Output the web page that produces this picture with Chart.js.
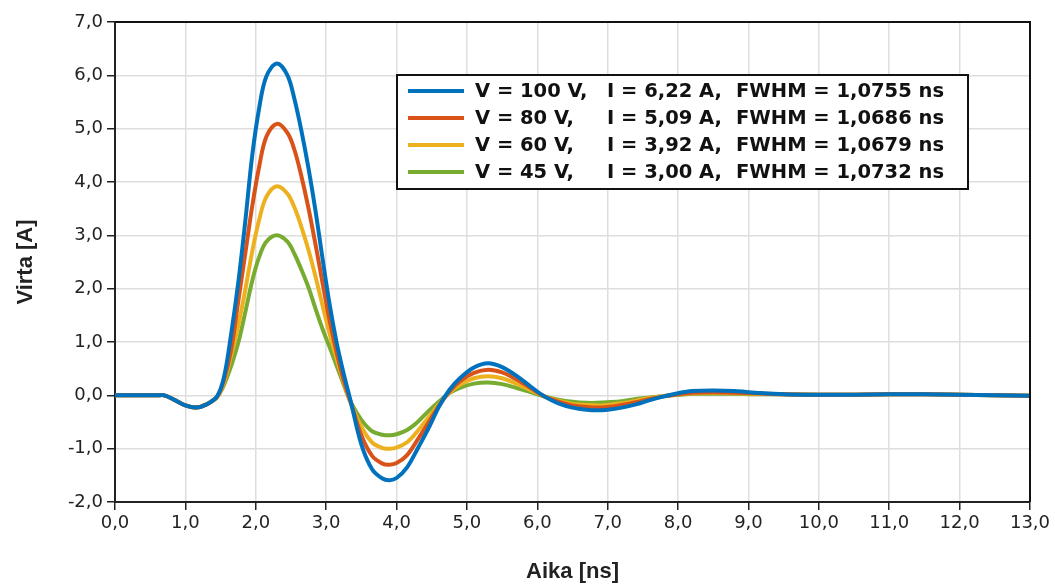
<!DOCTYPE html>
<html>
<head>
<meta charset="utf-8">
<script src="https://cdn.jsdelivr.net/npm/chart.js@4"></script>
<style>
  html, body { margin: 0; padding: 0; background: #fff; }
  #wrap { width: 1055px; height: 587px; }
</style>
</head>
<body>
<div id="wrap"><canvas id="chart1" width="1055" height="587"></canvas></div>
<script>
// time axis (ns)
const aika = [0, 0.6, 0.7, 0.85, 1.0, 1.15, 1.3, 1.45, 1.55, 1.65, 1.75, 1.85, 1.95, 2.05, 2.15, 2.3,
  2.45, 2.55, 2.65, 2.75, 2.85, 2.95, 3.05, 3.15, 3.25, 3.35, 3.5, 3.65, 3.8, 3.9, 4.0, 4.15,
  4.3, 4.45, 4.6, 4.75, 4.9, 5.1, 5.3, 5.5, 5.7, 5.9, 6.1, 6.3, 6.5, 6.7, 6.85, 7.0, 7.2, 7.4,
  7.6, 7.8, 8.0, 8.2, 8.5, 8.8, 9.1, 9.5, 10.0, 10.5, 11.0, 11.5, 12.0, 12.5, 13.0];

// current (A), one array per voltage
const virta100 = [0, 0, 0, -0.09, -0.19, -0.23, -0.17, -0.02, 0.35, 1.15, 2.1, 3.25, 4.5, 5.4, 5.98, 6.22,
  6.0, 5.55, 4.95, 4.25, 3.45, 2.55, 1.7, 0.98, 0.4, -0.12, -0.92, -1.38, -1.56, -1.59, -1.55, -1.35,
  -1.0, -0.63, -0.22, 0.1, 0.32, 0.52, 0.6, 0.53, 0.37, 0.17, -0.02, -0.15, -0.23, -0.27, -0.28, -0.27, -0.23, -0.17,
  -0.09, -0.02, 0.04, 0.08, 0.09, 0.08, 0.05, 0.02, 0.01, 0.01, 0.02, 0.02, 0.01, 0.0, -0.01];
const virta80 = [0, 0, 0, -0.09, -0.19, -0.23, -0.17, -0.03, 0.3, 0.85, 1.75, 2.65, 3.55, 4.3, 4.85, 5.09,
  4.92, 4.6, 4.1, 3.5, 2.82, 2.1, 1.4, 0.8, 0.28, -0.13, -0.75, -1.13, -1.28, -1.3, -1.27, -1.12,
  -0.83, -0.52, -0.2, 0.07, 0.26, 0.42, 0.48, 0.43, 0.3, 0.14, -0.02, -0.12, -0.19, -0.22, -0.23, -0.22, -0.18, -0.13,
  -0.07, -0.02, 0.02, 0.05, 0.06, 0.05, 0.04, 0.02, 0.01, 0.01, 0.02, 0.02, 0.01, 0.0, -0.01];
const virta60 = [0, 0, 0, -0.09, -0.19, -0.23, -0.17, -0.03, 0.25, 0.75, 1.3, 1.97, 2.7, 3.3, 3.72, 3.92,
  3.78, 3.52, 3.15, 2.72, 2.22, 1.68, 1.15, 0.68, 0.24, -0.15, -0.59, -0.88, -0.99, -1.0, -0.98, -0.88,
  -0.67, -0.42, -0.17, 0.05, 0.2, 0.32, 0.36, 0.32, 0.22, 0.1, -0.02, -0.1, -0.16, -0.18, -0.19, -0.18, -0.15, -0.1,
  -0.05, -0.01, 0.02, 0.04, 0.05, 0.04, 0.03, 0.02, 0.01, 0.01, 0.02, 0.02, 0.01, 0.0, -0.01];
const virta45 = [0, 0, 0, -0.09, -0.19, -0.23, -0.17, -0.03, 0.2, 0.55, 0.98, 1.55, 2.15, 2.6, 2.88, 3.0,
  2.88, 2.65, 2.35, 2.02, 1.62, 1.24, 0.9, 0.55, 0.2, -0.13, -0.46, -0.67, -0.74, -0.75, -0.73, -0.65,
  -0.5, -0.3, -0.12, 0.04, 0.14, 0.22, 0.24, 0.21, 0.14, 0.06, -0.02, -0.08, -0.12, -0.14, -0.14, -0.13, -0.11, -0.07,
  -0.04, -0.01, 0.01, 0.03, 0.03, 0.03, 0.02, 0.02, 0.01, 0.01, 0.02, 0.02, 0.01, 0.0, -0.01];

// legend columns
const jannite = ['V = 100 V,', 'V = 80 V,', 'V = 60 V,', 'V = 45 V,'];
const huippu = ['I = 6,22 A,', 'I = 5,09 A,', 'I = 3,92 A,', 'I = 3,00 A,'];
const fwhm = ['FWHM = 1,0755 ns', 'FWHM = 1,0686 ns', 'FWHM = 1,0679 ns', 'FWHM = 1,0732 ns'];
const varit = ['#0072BD', '#D95319', '#EDB120', '#77AC30'];

const sarjat = [virta100, virta80, virta60, virta45];

function pisteet(arr) {
  return arr.map((v, i) => ({ x: aika[i], y: v }));
}

const pilkku = (v) => v.toFixed(1).replace('.', ',');

// frame on top and right of plot area
const kehys = {
  id: 'kehys',
  afterDatasetsDraw(chart) {
    const a = chart.chartArea;
    const c = chart.ctx;
    c.save();
    c.strokeStyle = '#111';
    c.lineWidth = 2;
    c.beginPath();
    c.moveTo(a.left, a.top);
    c.lineTo(a.right, a.top);
    c.lineTo(a.right, a.bottom);
    c.stroke();
    c.restore();
  }
};

// boxed legend inside the plot, three aligned text columns
const selite = {
  id: 'selite',
  afterDraw(chart) {
    const c = chart.ctx;
    const x0 = 397, y0 = 75, w = 571, h = 114;
    c.save();
    c.fillStyle = '#fff';
    c.fillRect(x0, y0, w, h);
    c.strokeStyle = '#111';
    c.lineWidth = 2;
    c.strokeRect(x0, y0, w, h);
    c.font = 'bold 19.5px "DejaVu Sans"';
    c.textBaseline = 'middle';
    c.fillStyle = '#111';
    chart.data.datasets.forEach((ds, i) => {
      const y = 91 + i * 27;
      c.strokeStyle = ds.borderColor;
      c.lineWidth = 4;
      c.beginPath();
      c.moveTo(408, y);
      c.lineTo(464, y);
      c.stroke();
      c.fillText(jannite[i], 475, y + 1);
      c.fillText(huippu[i], 607, y + 1);
      c.fillText(fwhm[i], 736, y + 1);
    });
    c.restore();
  }
};

const ctx1 = document.getElementById('chart1').getContext('2d');

var chart1 = new Chart(ctx1, {
  type: 'scatter',
  data: {
    datasets: sarjat.map((s, i) => ({
      label: jannite[i],
      data: pisteet(s),
      showLine: true,
      borderColor: varit[i],
      backgroundColor: varit[i],
      borderWidth: 4,
      pointRadius: 0,
      tension: 0.35,
    })),
  },
  options: {
    responsive: false,
    animation: false,
    layout: { padding: { top: 22, right: 25, left: 0, bottom: 0 } },
    plugins: {
      legend: { display: false },
      tooltip: { enabled: false },
    },
    scales: {
      x: {
        type: 'linear',
        min: 0,
        max: 13,
        ticks: {
          stepSize: 1,
          callback: pilkku,
          font: { family: '"DejaVu Sans"', size: 18 },
          color: '#222',
          padding: 3,
          maxRotation: 0,
        },
        grid: { color: '#dedede', lineWidth: 1.5, tickColor: '#222', tickLength: 8 },
        border: { color: '#222', width: 2 },
        title: {
          display: true,
          text: 'Aika [ns]',
          font: { family: '"Liberation Sans"', size: 22, weight: 'bold' },
          color: '#222',
          padding: { top: 0, bottom: 2 },
        },
        afterFit(s) { s.height = 85; },
      },
      y: {
        min: -2,
        max: 7,
        ticks: {
          stepSize: 1,
          callback: pilkku,
          font: { family: '"DejaVu Sans"', size: 18 },
          color: '#222',
          padding: 4,
        },
        grid: { color: '#dedede', lineWidth: 1.5, tickColor: '#222', tickLength: 8 },
        border: { color: '#222', width: 2 },
        title: {
          display: true,
          text: 'Virta [A]',
          font: { family: '"Liberation Sans"', size: 22, weight: 'bold' },
          color: '#222',
          padding: { top: 13, bottom: 0 },
        },
        afterFit(s) { s.width = 115; },
      },
    },
  },
  plugins: [kehys, selite],
});
</script>
</body>
</html>
